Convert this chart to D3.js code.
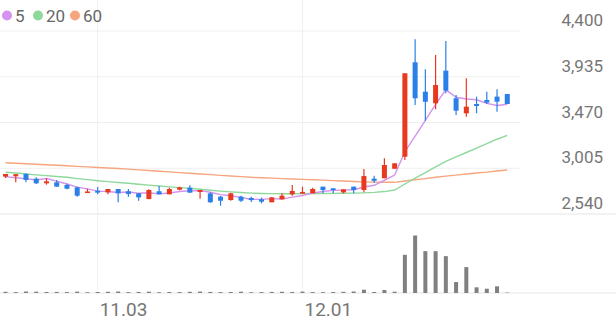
<!DOCTYPE html>
<html><head><meta charset="utf-8">
<script src="https://cdn.jsdelivr.net/npm/d3@7"></script>
<style>
html,body{margin:0;padding:0;background:#fff;}
svg{display:block;font-family:Roboto,"Noto Sans",sans-serif;}
</style></head>
<body><svg id="c" width="616" height="321"></svg>
<script>
const dates = ["10.21","10.22","10.23","10.24","10.27","10.28","10.29","10.30","10.31","11.03",
"11.04","11.05","11.06","11.07","11.10","11.11","11.12","11.13","11.14","11.17",
"11.18","11.19","11.20","11.21","11.24","11.25","11.26","11.27","11.28","12.01",
"12.02","12.03","12.04","12.05","12.08","12.09","12.10","12.11","12.12","12.15",
"12.16","12.17","12.18","12.19","12.22","12.23","12.24","12.26","12.29","12.30"];
const openP = [2920,2924,2947,2899,2852,2862,2835,2811,2753,2777,2760,2794,2771,2750,2692,2771,2740,2787,2808,2764,
2750,2716,2682,2716,2703,2689,2659,2689,2740,2747,2750,2818,2801,2760,2818,2784,2899,2903,3000,3122,
4082,3783,3665,3997,3716,3563,3658,3699,3733,3760];
const highP = [2947,2947,2954,2913,2903,2886,2848,2818,2797,2814,2794,2794,2794,2750,2791,2825,2808,2818,2832,2784,
2760,2723,2757,2726,2716,2706,2709,2750,2835,2818,2808,2818,2801,2791,2818,2997,2930,3106,3055,3970,
4316,4011,4156,4298,3750,3919,3733,3783,3808,3760];
const lowP = [2906,2862,2862,2845,2838,2818,2791,2716,2753,2740,2740,2659,2716,2675,2689,2740,2740,2781,2757,2696,
2655,2624,2675,2662,2662,2648,2659,2689,2726,2747,2750,2750,2750,2750,2750,2760,2855,2903,3000,3089,
3648,3488,3604,3767,3546,3529,3563,3658,3580,3658];
const closeP = [2947,2944,2886,2852,2872,2818,2797,2726,2769,2757,2794,2750,2743,2709,2784,2740,2794,2811,2757,2784,
2659,2675,2750,2675,2682,2665,2709,2726,2774,2764,2794,2784,2784,2791,2784,2926,2877,3038,3055,3970,
3716,3681,3851,3794,3590,3631,3638,3672,3682,3658];
const volume = [120,90,150,130,100,110,90,140,80,100,120,150,90,110,130,80,100,90,120,140,
110,90,100,130,80,90,110,120,100,140,90,80,100,120,150,330,100,300,130,3830,
5770,4200,4200,3700,1100,2600,570,430,670,40];
const ma5 = [2920,2909,2899,2886,2900,2874,2845,2813,2796,2773,2769,2759,2763,2751,2756,2745,2754,2768,2777,2777,
2761,2737,2725,2709,2688,2689,2696,2691,2711,2728,2753,2768,2780,2783,2787,2814,2832,2883,2936,3173,
3331,3492,3655,3802,3726,3709,3701,3665,3643,3656];
const ma20 = [2964,2956,2947,2938,2930,2921,2913,2900,2889,2878,2869,2860,2852,2843,2834,2825,2816,2808,2800,2791,
2782,2773,2765,2758,2752,2749,2747,2746,2746,2747,2748,2749,2750,2751,2752,2755,2760,2768,2784,2845,
2905,2960,3020,3075,3120,3165,3210,3255,3300,3340];
const ma60 = [3061,3056,3051,3046,3040,3035,3030,3024,3019,3013,3008,3002,2996,2989,2982,2975,2968,2961,2954,2947,
2940,2933,2926,2920,2913,2909,2905,2900,2896,2892,2888,2884,2879,2875,2871,2867,2864,2862,2862,2876,
2888,2900,2913,2925,2935,2946,2956,2966,2977,2987];
const yTicks = [2540,3005,3470,3935,4400];
const xTickLabels = ["11.03","12.01"];
const legendLabels = ["5","20","60"];

const C = {up:"#e8391f", down:"#2a7fe8", ma5:"#d592ee", ma20:"#8fd89c", ma60:"#f6a67e",
           vol:"#808080", grid:"#f0f0f0", sep:"#e6e6e6", text:"#767676"};

const svg = d3.select("#c");
const x = d3.scaleBand().domain(dates).range([0.4, 512.4]);
const cx = d => x(d) + x.bandwidth()/2;
const y = d3.scaleLinear().domain([2540,4400]).range([214,31]);
const yv = d3.scaleLinear().domain([0,5770]).range([293,235.5]);

// horizontal grid
svg.append("g").selectAll("line").data(yTicks.slice(1)).join("line")
  .attr("x1",0).attr("x2",520).attr("y1",d=>y(d)).attr("y2",d=>y(d))
  .attr("stroke",C.grid).attr("stroke-width",1);
// separator line
svg.append("line").attr("x1",0).attr("x2",616).attr("y1",y(2540)).attr("y2",y(2540))
  .attr("stroke",C.sep).attr("stroke-width",1.2);
// vertical grid
svg.append("g").selectAll("line").data(xTickLabels).join("line")
  .attr("x1",d=>cx(d)).attr("x2",d=>cx(d)).attr("y1",0).attr("y2",293)
  .attr("stroke",C.grid).attr("stroke-width",1);

// volume baseline
svg.append("line").attr("x1",0).attr("x2",616).attr("y1",yv(0)).attr("y2",yv(0))
  .attr("stroke",C.sep).attr("stroke-width",1.2);

// MA lines
const mkLine = arr => d3.line().x((d,i)=>cx(dates[i])).y(d=>y(d))(arr);
[[ma60,C.ma60],[ma20,C.ma20],[ma5,C.ma5]].forEach(([arr,col])=>{
  svg.append("path").attr("d",mkLine(arr)).attr("fill","none")
    .attr("stroke",col).attr("stroke-width",1.4);
});

// candles
const bw = 5;
const g = svg.append("g");
dates.forEach((d,i)=>{
  const up = closeP[i] >= openP[i];
  const col = up ? C.up : C.down;
  g.append("line").attr("x1",cx(d)).attr("x2",cx(d))
    .attr("y1",y(highP[i])).attr("y2",y(lowP[i])).attr("stroke",col).attr("stroke-width",1.2);
  const top = y(Math.max(openP[i],closeP[i])), bot = y(Math.min(openP[i],closeP[i]));
  g.append("rect").attr("x",cx(d)-bw/2).attr("width",bw)
    .attr("y",top).attr("height",Math.max(1.5,bot-top)).attr("fill",col);
});

// volume bars
svg.append("g").selectAll("rect").data(volume).join("rect")
  .attr("x",(v,i)=>cx(dates[i])-2).attr("width",4)
  .attr("y",v=>yv(v)).attr("height",v=>yv(0)-yv(v)).attr("fill",C.vol);

// y axis labels
const yAxis = d3.axisLeft(y).tickValues(yTicks).tickSize(0).tickPadding(0)
  .tickFormat(d3.format(","));
const ya = svg.append("g").attr("transform","translate(603,0)").call(yAxis);
ya.select(".domain").remove();
ya.selectAll("text").attr("dy","-5.5").attr("fill",C.text)
  .style("font-size","17px").style("font-family","Roboto,sans-serif");

// x axis labels
const xAxis = d3.axisBottom(x).tickValues(xTickLabels).tickSize(0).tickPadding(0);
const xa = svg.append("g").attr("transform","translate(0,300)").call(xAxis);
xa.select(".domain").remove();
xa.selectAll("text").attr("text-anchor","start").attr("x",2).attr("dy","15.5")
  .attr("fill",C.text).style("font-size","19px").style("font-family","Roboto,sans-serif");

// legend
const leg = svg.append("g");
const legCols = [C.ma5,C.ma20,C.ma60];
const legX = [7,38,75];
legendLabels.forEach((t,i)=>{
  leg.append("circle").attr("cx",legX[i]).attr("cy",15.5).attr("r",5).attr("fill",legCols[i]);
  leg.append("text").attr("x",legX[i]+8).attr("y",21.5).text(t).attr("fill","#666")
    .style("font-size","17px");
});
</script></body></html>
